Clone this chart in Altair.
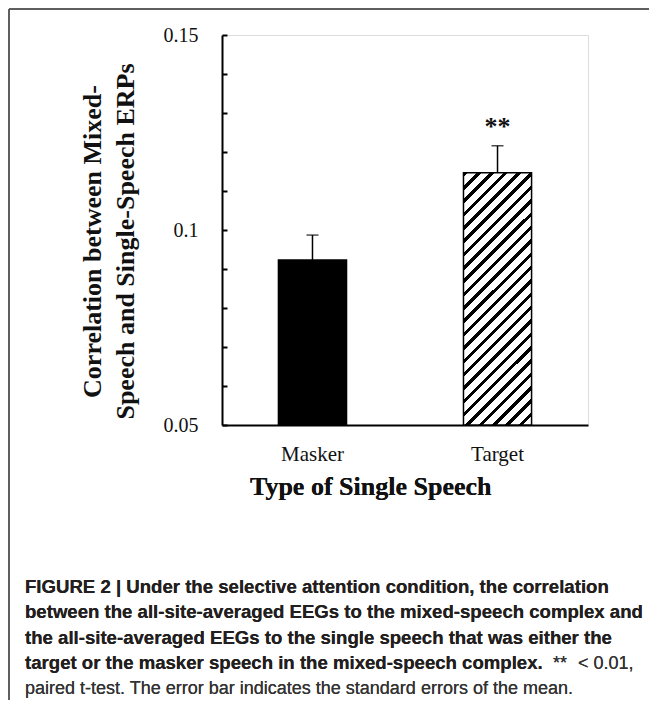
import altair as alt
import pandas as pd

# ---------------- data ----------------
categories = ["Masker", "Target"]
means = [0.0923, 0.1147]
sems = [0.0064, 0.0069]
sig_marks = ["", "**"]

y_min, y_max = 0.05, 0.15
major_ticks = [0.05, 0.1, 0.15]
minor_ticks = [0.05, 0.06, 0.07, 0.08, 0.09, 0.10, 0.11, 0.12, 0.13, 0.14, 0.15]

y_title = ["Correlation between Mixed-", "Speech and Single-Speech ERPs"]
x_title = "Type of Single Speech"

caption_bold = [
    "FIGURE 2 | Under the selective attention condition, the correlation",
    "between the all-site-averaged EEGs to the mixed-speech complex and",
    "the all-site-averaged EEGs to the single speech that was either the",
    "target or the masker speech in the mixed-speech complex.",
]
caption_sig = "**"
caption_p = "< 0.01,"
caption_last = "paired t-test. The error bar indicates the standard errors of the mean."

# ---------------- layout ----------------
W, H = 366, 390
PAD_L, PAD_T, PAD_R, PAD_B = 214, 27, 61, 275
SERIF = "Liberation Serif"
SANS = "Liberation Sans"

df = pd.DataFrame({"cat": categories, "value": means, "se": sems, "sig": sig_marks})

# hatch gradient for the Target bar (45 degree stripes)
bar_w = 68.0
bar_h = (means[1] - y_min) / (y_max - y_min) * H
r = bar_w / bar_h
k = (r + 1) / (r * r + 1)
n_stripes = int(round((bar_w + bar_h) / 2 ** 0.5 / 9.5))
stops = []
for i in range(n_stripes):
    a = i / n_stripes
    b = (i + 0.34) / n_stripes
    c = (i + 1) / n_stripes
    stops += [
        alt.GradientStop(offset=a, color="black"),
        alt.GradientStop(offset=b, color="black"),
        alt.GradientStop(offset=b, color="white"),
        alt.GradientStop(offset=c, color="white"),
    ]
hatch = alt.LinearGradient(gradient="linear", stops=stops, x1=0, y1=0, x2=r * k, y2=k)

x_enc = alt.X(
    "cat:N",
    sort=categories,
    scale=alt.Scale(paddingInner=0.632, paddingOuter=0.305),
    axis=alt.Axis(
        title=None, labelAngle=0, ticks=False, tickSize=0, domainColor="black",
        domainWidth=2, labelFont=SERIF, labelFontSize=21, labelColor="#111",
        labelPadding=18,
    ),
)
y_scale = alt.Scale(domain=[y_min, y_max], zero=False, nice=False)

base = alt.Chart(df)

bars_masker = base.transform_filter(alt.datum.cat == categories[0]).mark_bar(
    color="black", stroke="black", strokeWidth=1.5
).encode(
    x=x_enc,
    y=alt.Y(
        "value:Q", scale=y_scale,
        axis=alt.Axis(
            values=major_ticks, format=".2~f", ticks=False, tickSize=0, grid=False,
            domainColor="black", domainWidth=2, labelFont=SERIF, labelFontSize=20,
            labelColor="#111", labelPadding=24,
            title=y_title, titleFont=SERIF, titleFontWeight="bold", titleFontSize=26,
            titleColor="#111", titleAngle=270, titleX=-130, titleY=206,
            titleAlign="center", titleBaseline="middle", titleLineHeight=33,
        ),
    ),
    y2=alt.datum(y_min),
)

bars_target = base.transform_filter(alt.datum.cat == categories[1]).mark_bar(
    fill=hatch, stroke="black", strokeWidth=1.5
).encode(
    x=x_enc,
    y=alt.Y("value:Q", scale=y_scale, axis=None),
    y2=alt.datum(y_min),
)

err = base.transform_calculate(upper="datum.value + datum.se").mark_rule(
    color="black", strokeWidth=1.5
).encode(
    x=x_enc,
    y=alt.Y(
        "value:Q", scale=y_scale,
        axis=alt.Axis(
            orient="right", offset=-W, values=minor_ticks, labels=False, domain=False,
            ticks=True, tickSize=5, tickWidth=2, tickColor="black", grid=False, title=None,
        ),
    ),
    y2="upper:Q",
)

caps = base.transform_calculate(upper="datum.value + datum.se").mark_tick(
    color="black", size=12, thickness=1.5
).encode(
    x=x_enc,
    y=alt.Y("upper:Q", scale=y_scale, axis=None),
)

sig = base.transform_calculate(upper="datum.value + datum.se").mark_text(
    font=SERIF, fontSize=26, fontWeight="bold", color="#111", baseline="alphabetic", dy=-11
).encode(
    x=x_enc,
    y=alt.Y("upper:Q", scale=y_scale, axis=None),
    text="sig:N",
)

layers = [bars_masker, bars_target, err, caps, sig]

# x title
layers.append(
    alt.Chart(df).mark_text(
        font=SERIF, fontSize=26, fontWeight="bold", color="#111", align="left",
        baseline="alphabetic",
    ).encode(x=alt.value(28), y=alt.value(460), text=alt.value(x_title))
)

# caption
cap_x = 25 - 222
for i, line in enumerate(caption_bold):
    layers.append(
        alt.Chart(df).mark_text(
            font=SANS, fontSize=18.6, fontWeight="bold", color="#231f20", align="left",
            baseline="alphabetic",
        ).encode(x=alt.value(cap_x), y=alt.value(558 + i * 25.3), text=alt.value(line))
    )
layers.append(
    alt.Chart(df).mark_text(
        font=SANS, fontSize=18, color="#333", align="left", baseline="alphabetic",
    ).encode(x=alt.value(553 - 222), y=alt.value(558 + 3 * 25.3), text=alt.value(caption_sig))
)
layers.append(
    alt.Chart(df).mark_text(
        font=SANS, fontSize=18, color="#333", align="left", baseline="alphabetic",
    ).encode(x=alt.value(578 - 222), y=alt.value(558 + 3 * 25.3), text=alt.value(caption_p))
)
layers.append(
    alt.Chart(df).mark_text(
        font=SANS, fontSize=18, color="#333", align="left", baseline="alphabetic",
    ).encode(x=alt.value(cap_x), y=alt.value(558 + 4 * 25.3), text=alt.value(caption_last))
)

# frame
layers.append(
    alt.Chart(df).mark_rule(color="#555", strokeWidth=1.5).encode(
        x=alt.value(-213), y=alt.value(-26), y2=alt.value(H + PAD_B)
    )
)
layers.append(
    alt.Chart(df).mark_rule(color="#555", strokeWidth=1.5).encode(
        x=alt.value(-213), x2=alt.value(W + PAD_R), y=alt.value(-26)
    )
)

chart = alt.layer(*layers).resolve_axis(y="independent").properties(
    width=W, height=H,
    padding={"left": PAD_L, "top": PAD_T, "right": PAD_R, "bottom": PAD_B},
    autosize=alt.AutoSizeParams(type="none"),
).configure_view(stroke=None).configure(background="white")

chart.save("out.html", embed_options={"renderer": "svg", "actions": False})
